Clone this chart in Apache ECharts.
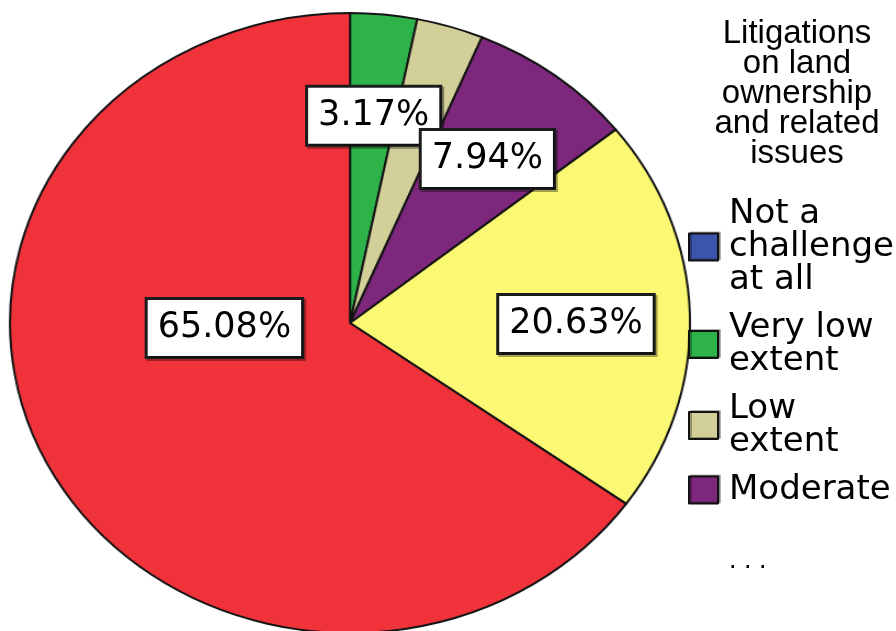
<!DOCTYPE html>
<html>
<head>
<meta charset="utf-8">
<script src="https://cdn.jsdelivr.net/npm/echarts@6/dist/echarts.min.js"></script>
<style>
  html, body { margin: 0; padding: 0; background: #fff; overflow: hidden; }
  #stage { position: relative; width: 896px; height: 631px; }
  #pie, #overlay { position: absolute; left: 0; top: 0; height: 631px; }
  #overlay { width: 896px; }
</style>
</head>
<body>
<div id="stage">
  <div id="pie"></div>
  <div id="overlay"></div>
</div>
<script>
// Survey response shares (percent of respondents)
const chartTitle = 'Litigations\non land\nownership\nand related\nissues';
const categories = [
  'Not a challenge at all',
  'Very low extent',
  'Low extent',
  'Moderate',
  'High extent',
  'Very high extent'
];
const percentages = [0, 3.17, 3.17, 7.94, 20.63, 65.08];
const legendCategories = categories.slice(0, 4);
const legendWrapped = {
  'Not a challenge at all': 'Not a\nchallenge\nat all',
  'Very low extent': 'Very low\nextent',
  'Low extent': 'Low\nextent',
  'Moderate': 'Moderate'
};
const labelVisible = [false, true, false, true, true, true];

// Styling
const sliceColors = ['#3c55aa', '#2db34a', '#d3cf99', '#7d287d', '#fbf873', '#f0323a'];
const TITLE_FONT = '"Liberation Sans", Arial, sans-serif';
const BODY_FONT = '"DejaVu Sans", sans-serif';
const STRETCH = 340 / 310;          // the pie is drawn as a slightly wide ellipse
const CX = 350, CY = 323, R = 310;
// nudges of the value boxes away from the default inside position
const labelNudge = [[0, 0], [8, -50], [0, 0], [42, -38], [68, 5], [15, -67]];

// ---- pie layer (stretched horizontally) ----
const pieEl = document.getElementById('pie');
pieEl.style.width = (896 / STRETCH) + 'px';
pieEl.style.transform = 'scaleX(' + STRETCH + ')';
pieEl.style.transformOrigin = '0 0';

const pieChart = echarts.init(pieEl, null, { renderer: 'canvas' });
pieChart.setOption({
  animation: false,
  color: sliceColors,
  series: [{
    type: 'pie',
    silent: true,
    center: [CX / STRETCH, CY],
    radius: R,
    startAngle: 90,
    clockwise: true,
    avoidLabelOverlap: false,
    label: { show: false },
    labelLine: { show: false },
    itemStyle: { borderColor: '#141414', borderWidth: 2 },
    data: categories.map((name, i) => ({ name: name, value: percentages[i] }))
  }]
});

// ---- text layer: title, legend, value boxes ----
const overlay = echarts.init(document.getElementById('overlay'), null, { renderer: 'canvas' });
overlay.setOption({
  animation: false,
  title: {
    text: chartTitle,
    left: 792,
    top: 14,
    textAlign: 'center',
    textStyle: { fontFamily: TITLE_FONT, fontSize: 33, fontWeight: 'normal', lineHeight: 30, color: '#000' }
  },
  legend: {
    orient: 'vertical',
    left: 688,
    top: 197,
    padding: 0,
    itemWidth: 29,
    itemHeight: 27,
    itemGap: 14,
    icon: 'rect',
    selectedMode: false,
    formatter: name => legendWrapped[name],
    data: legendCategories.map(name => ({
      name: name,
      itemStyle: {
        color: sliceColors[categories.indexOf(name)],
        borderColor: '#111',
        borderWidth: 2,
        opacity: 1,
        shadowColor: 'rgba(0,0,0,0.3)',
        shadowOffsetX: 2,
        shadowOffsetY: -1
      }
    })),
    textStyle: {
      fontFamily: BODY_FONT, fontSize: 34, lineHeight: 33, color: '#000',
      padding: [0, 0, 0, 6]
    }
  },
  graphic: [{
    type: 'text',
    left: 729,
    top: 547,
    style: { text: '. . .', fontFamily: TITLE_FONT, fontSize: 27, fill: '#000' }
  }],
  series: [{
    type: 'pie',
    silent: true,
    center: [CX, CY],
    radius: R,
    startAngle: 90,
    clockwise: true,
    avoidLabelOverlap: false,
    itemStyle: { color: 'rgba(0,0,0,0)', borderWidth: 0 },
    labelLine: { show: false },
    label: {
      show: true,
      position: 'inside',
      formatter: p => p.value.toFixed(2) + '%',
      fontFamily: BODY_FONT,
      fontSize: 35,
      lineHeight: 40,
      color: '#000',
      backgroundColor: '#fff',
      borderColor: '#1c1c1c',
      borderWidth: 3,
      padding: [8, 10, 8, 10],
      shadowColor: 'rgba(0,0,0,0.35)',
      shadowOffsetX: 2,
      shadowOffsetY: 2,
      shadowBlur: 0
    },
    labelLayout: p => ({ dx: labelNudge[p.dataIndex][0], dy: labelNudge[p.dataIndex][1] }),
    data: categories.map((name, i) => ({
      name: name,
      value: percentages[i],
      label: { show: labelVisible[i] }
    }))
  }]
});
</script>
</body>
</html>
